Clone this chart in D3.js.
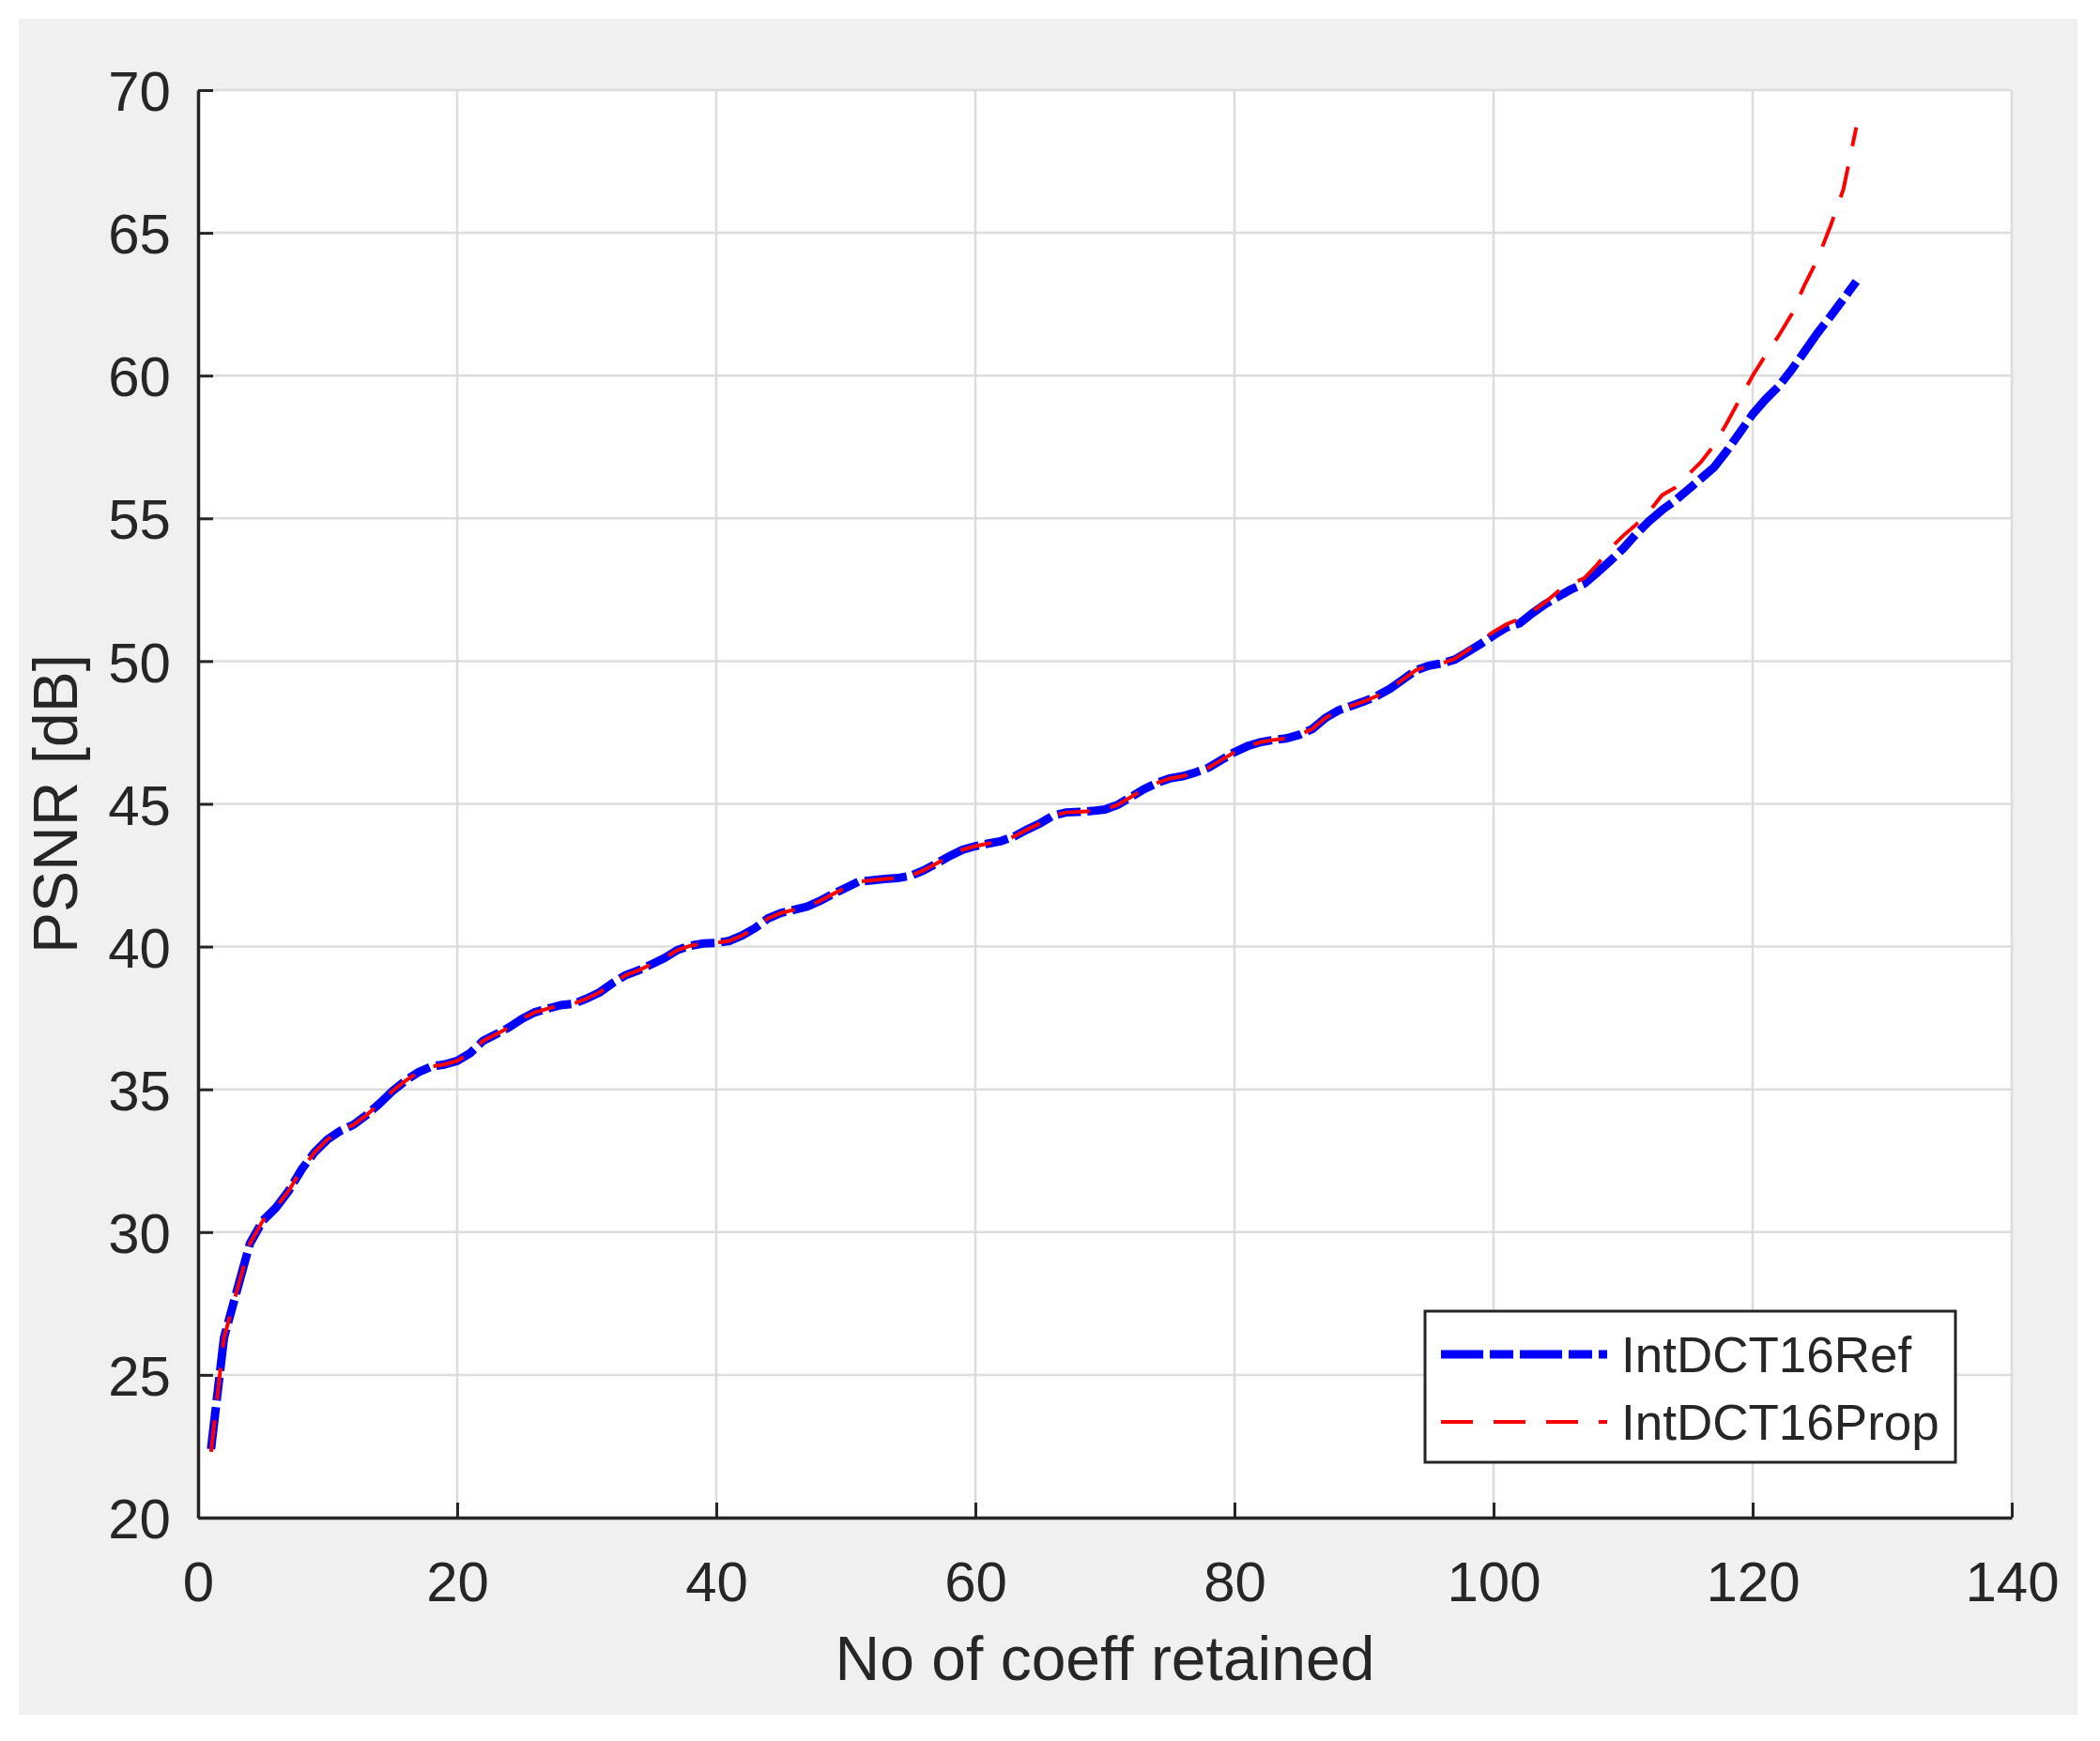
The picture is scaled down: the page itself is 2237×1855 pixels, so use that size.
<!DOCTYPE html>
<html>
<head>
<meta charset="utf-8">
<script src="https://cdn.jsdelivr.net/npm/d3@7"></script>
<style>
  body { margin: 0; background: #ffffff; }
  text { font-family: "Liberation Sans", Arial, sans-serif; fill: #262626; }
</style>
</head>
<body>
<div id="chart"></div>
<script>

// number of retained coefficients (x) and PSNR values
var coeffs = d3.range(1, 129);

var psnrRef = [
  22.4, 26.3, 27.95, 29.6, 30.4, 30.85, 31.45, 32.2, 32.8, 33.25,
  33.55, 33.76, 34.1, 34.5, 34.94, 35.3, 35.6, 35.8, 35.87, 36.0,
  36.27, 36.7, 36.93, 37.17, 37.47, 37.7, 37.83, 37.95, 38.0, 38.18,
  38.4, 38.72, 39.0, 39.17, 39.38, 39.6, 39.88, 40.03, 40.11, 40.13,
  40.2, 40.39, 40.65, 40.99, 41.18, 41.29, 41.4, 41.6, 41.84, 42.06,
  42.28, 42.32, 42.37, 42.4, 42.48, 42.67, 42.91, 43.17, 43.39, 43.52,
  43.61, 43.7, 43.86, 44.1, 44.32, 44.59, 44.7, 44.72, 44.75, 44.8,
  44.97, 45.24, 45.51, 45.73, 45.89, 45.97, 46.1, 46.27, 46.54, 46.81,
  47.02, 47.16, 47.24, 47.29, 47.42, 47.62, 48.0, 48.27, 48.43, 48.59,
  48.78, 49.03, 49.35, 49.68, 49.84, 49.92, 50.05, 50.32, 50.6, 50.9,
  51.18, 51.32, 51.68, 52.0, 52.26, 52.52, 52.71, 53.1, 53.51, 53.94,
  54.45, 54.9, 55.29, 55.62, 56.0, 56.39, 56.78, 57.36, 58.0, 58.65,
  59.17, 59.62, 60.2, 60.84, 61.49, 62.07, 62.68, 63.3
];

var psnrProp = [
  22.3, 26.3, 27.95, 29.6, 30.4, 30.85, 31.45, 32.2, 32.8, 33.25,
  33.55, 33.76, 34.1, 34.5, 34.94, 35.3, 35.6, 35.8, 35.87, 36.0,
  36.27, 36.7, 36.93, 37.17, 37.47, 37.7, 37.83, 37.95, 38.0, 38.18,
  38.4, 38.72, 39.0, 39.17, 39.38, 39.6, 39.88, 40.03, 40.11, 40.13,
  40.2, 40.39, 40.65, 40.99, 41.18, 41.29, 41.4, 41.6, 41.84, 42.06,
  42.28, 42.32, 42.37, 42.4, 42.48, 42.67, 42.91, 43.17, 43.39, 43.52,
  43.61, 43.7, 43.86, 44.1, 44.32, 44.59, 44.7, 44.72, 44.75, 44.8,
  44.97, 45.24, 45.51, 45.73, 45.89, 45.97, 46.1, 46.27, 46.54, 46.81,
  47.02, 47.16, 47.24, 47.29, 47.42, 47.62, 48.0, 48.27, 48.43, 48.59,
  48.78, 49.03, 49.35, 49.68, 49.84, 49.92, 50.08, 50.38, 50.71, 51.03,
  51.29, 51.48, 51.74, 52.07, 52.45, 52.71, 52.9, 53.38, 53.94, 54.39,
  54.78, 55.23, 55.81, 56.07, 56.52, 56.97, 57.55, 58.33, 59.17, 60.0,
  60.72, 61.39, 62.14, 63.17, 64.07, 65.23, 66.52, 68.7
];

var xTicks = [0, 20, 40, 60, 80, 100, 120, 140];
var yTicks = [20, 25, 30, 35, 40, 45, 50, 55, 60, 65, 70];
var seriesNames = ["IntDCT16Ref", "IntDCT16Prop"];

var svgWidth = 2237;
var svgHeight = 1855;

var margin = { top: 96, right: 94, bottom: 238, left: 211 };
var width = svgWidth - margin.left - margin.right;
var height = svgHeight - margin.top - margin.bottom;

var svg = d3.select("#chart")
  .append("svg")
  .attr("width", svgWidth)
  .attr("height", svgHeight);

// grey figure background
svg.append("rect")
  .attr("x", 20)
  .attr("y", 20)
  .attr("width", 2193)
  .attr("height", 1807)
  .attr("fill", "#f0f0f0");

var chartGroup = svg.append("g")
  .attr("transform", `translate(${margin.left}, ${margin.top})`);

chartGroup.append("rect")
  .attr("width", width)
  .attr("height", height)
  .attr("fill", "#ffffff");

var xScale = d3.scaleLinear().domain([0, 140]).range([0, width]);
var yScale = d3.scaleLinear().domain([20, 70]).range([height, 0]);

// grid
chartGroup.append("g")
  .selectAll("line")
  .data(xTicks)
  .enter()
  .append("line")
  .attr("x1", d => xScale(d))
  .attr("x2", d => xScale(d))
  .attr("y1", 0)
  .attr("y2", height)
  .attr("stroke", "#dcdcdc")
  .attr("stroke-width", 2.5);

chartGroup.append("g")
  .selectAll("line")
  .data(yTicks)
  .enter()
  .append("line")
  .attr("x1", 0)
  .attr("x2", width)
  .attr("y1", d => yScale(d))
  .attr("y2", d => yScale(d))
  .attr("stroke", "#dcdcdc")
  .attr("stroke-width", 2.5);

// axes, ticks pointing inwards
var bottomAxis = d3.axisBottom(xScale)
  .tickValues(xTicks)
  .tickSize(-16)
  .tickSizeOuter(0)
  .tickPadding(44);

var leftAxis = d3.axisLeft(yScale)
  .tickValues(yTicks)
  .tickSize(-16)
  .tickSizeOuter(0)
  .tickPadding(44);

var xAxis = chartGroup.append("g")
  .attr("transform", `translate(0, ${height})`)
  .call(bottomAxis);

var yAxis = chartGroup.append("g")
  .call(leftAxis);

[xAxis, yAxis].forEach(function(ax) {
  ax.select(".domain").attr("stroke", "#262626").attr("stroke-width", 3.5);
  ax.selectAll(".tick line").attr("stroke", "#262626").attr("stroke-width", 3);
  ax.selectAll(".tick text")
    .attr("font-size", "60px")
    .attr("font-family", "'Liberation Sans', Arial, sans-serif")
    .attr("fill", "#262626");
});

xAxis.selectAll(".tick text").attr("dy", 0).attr("y", 89);
yAxis.selectAll(".tick text").attr("dy", "0.36em").attr("x", -29);

// lines
var line = d3.line()
  .x((d, i) => xScale(coeffs[i]))
  .y(d => yScale(d));

chartGroup.append("path")
  .datum(psnrRef)
  .attr("d", line)
  .attr("fill", "none")
  .attr("stroke", "#0000ff")
  .attr("stroke-width", 9)
  .attr("stroke-dasharray", "45,7,25,7");

chartGroup.append("path")
  .datum(psnrProp)
  .attr("d", line)
  .attr("fill", "none")
  .attr("stroke", "#ff0000")
  .attr("stroke-width", 4)
  .attr("stroke-dasharray", "34,22");

// axis labels
svg.append("text")
  .attr("x", margin.left + width / 2)
  .attr("y", 1790)
  .attr("text-anchor", "middle")
  .attr("font-size", "66px")
  .text("No of coeff retained");

svg.append("text")
  .attr("transform", `translate(82, ${margin.top + height / 2}) rotate(-90)`)
  .attr("text-anchor", "middle")
  .attr("font-size", "66px")
  .text("PSNR [dB]");

// legend
var legend = svg.append("g");

legend.append("rect")
  .attr("x", 1518)
  .attr("y", 1397)
  .attr("width", 565)
  .attr("height", 161)
  .attr("fill", "#ffffff")
  .attr("stroke", "#262626")
  .attr("stroke-width", 3);

var legendStyles = [
  { color: "#0000ff", width: 9, dash: "45,7,25,7" },
  { color: "#ff0000", width: 4, dash: "34,22" }
];

seriesNames.forEach(function(name, i) {
  var y = 1443 + i * 72;
  legend.append("line")
    .attr("x1", 1535)
    .attr("x2", 1712)
    .attr("y1", y)
    .attr("y2", y)
    .attr("stroke", legendStyles[i].color)
    .attr("stroke-width", legendStyles[i].width)
    .attr("stroke-dasharray", legendStyles[i].dash);
  legend.append("text")
    .attr("x", 1727)
    .attr("y", y + 19)
    .attr("font-size", "53px")
    .text(name);
});

</script>
</body>
</html>
